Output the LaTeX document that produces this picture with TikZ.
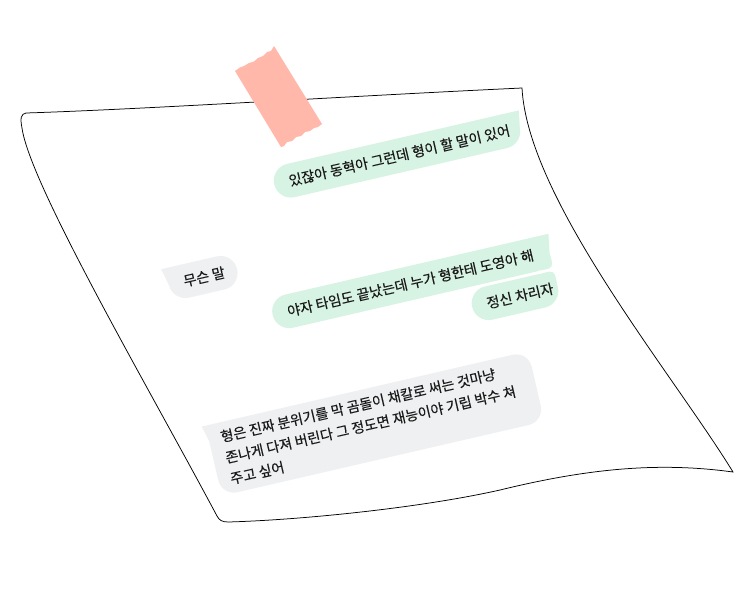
\documentclass[tikz,border=0pt]{standalone}
\usepackage{fontspec}
\setmainfont{Noto Sans CJK KR}[FakeBold=0.3]
\definecolor{bgreen}{HTML}{D7F3E3}
\definecolor{bgray}{HTML}{EFF0F2}
\definecolor{tapec}{HTML}{FFB8AA}
\definecolor{ink}{HTML}{1A1A1A}
\begin{document}
\begin{tikzpicture}[x=1pt,y=-1pt,
  msg/.style={font=\fontsize{14.1}{21.5}\selectfont, text=ink, inner sep=0pt, rotate=13, anchor=west},
  paper/.style={draw=black, line width=0.75pt, fill=white},
  greenfill/.style={fill=bgreen},
  grayfill/.style={fill=bgray}]
\useasboundingbox (0,0) rectangle (755,606);
\fill[white] (0,0) rectangle (755,606);

% paper sheet
\draw[paper] (26,113) .. controls (150,109) and (350,96) .. (522,88)
  .. controls (528,200) and (673,374) .. (733,472)
  .. controls (660,462) and (590,468) .. (500,490)
  .. controls (420,508) and (300,520) .. (228,522)
  .. controls (222,522) and (219,520) .. (217,516)
  .. controls (150,390) and (30,185) .. (22,128)
  .. controls (20,118) and (21,114) .. cycle;

% tape
\fill[tapec] (235,71) -- (240,67.5) -- (244,66) -- (249,63) -- (254,61.5) -- (258,58)
  -- (263,56) -- (267,52) -- (271,51) -- (274,46)
  -- (322,124) -- (318,127) -- (314,128) -- (310,131) -- (305,132) -- (301,136)
  -- (296,137) -- (292,141) -- (287,142) -- (284,146) -- (281,147) -- cycle;

% bubble 1
\begin{scope}[shift={(397,156)}, rotate=13]
  \fill[greenfill, rounded corners=17pt] (-126,-17) rectangle (126,17);
  \fill[greenfill] (109,-17) -- (129,-17) -- (126,0) -- cycle;
  \node[msg] (t1) at (-111,0) {있잖아 동혁아 그런데 형이 할 말이 있어};
\end{scope}

% bubble "무슨 말"
\begin{scope}[shift={(203,277)}, rotate=13]
  \fill[grayfill, rounded corners=17pt] (-35,-17) rectangle (35,17);
  \fill[grayfill] (-18,-17) -- (-39,-17) -- (-35,0) -- cycle;
  \node[msg] (tm) at (-20,0) {무슨 말};
\end{scope}

% bubble 2
\begin{scope}[shift={(411,283)}, rotate=13]
  \fill[greenfill, rounded corners=17pt] (-142,-17) rectangle (142,17);
  \fill[greenfill, rounded corners=5pt] (125,0) rectangle (142,17);
  \fill[greenfill] (125,-17) -- (145,-17) -- (142,0) -- cycle;
  \node[msg] (t2) at (-127,0) {야자 타임도 끝났는데 누가 형한테 도영아 해};
\end{scope}

% bubble 3
\begin{scope}[shift={(515,297)}, rotate=13]
  \fill[greenfill, rounded corners=17pt] (-44,-17) rectangle (44,17);
  \fill[greenfill, rounded corners=5pt] (27,-17) rectangle (44,0);
  \node[msg] (t3) at (-29,0) {정신 차리자};
\end{scope}

% bubble 4
\begin{scope}[shift={(375,423.5)}, rotate=13]
  \fill[grayfill, rounded corners=16pt] (-165.5,-36) rectangle (165.5,36);
  \fill[grayfill] (-149.5,-36) -- (-169.5,-36) -- (-165.5,-20) -- cycle;
  \node[msg, align=left] (t4) at (-153.5,0) {형은 진짜 분위기를 막 곰돌이 채칼로 써는 것마냥\\존나게 다져 버린다 그 정도면 재능이야 기립 박수 쳐\\주고 싶어};
\end{scope}
\end{tikzpicture}
\end{document}
